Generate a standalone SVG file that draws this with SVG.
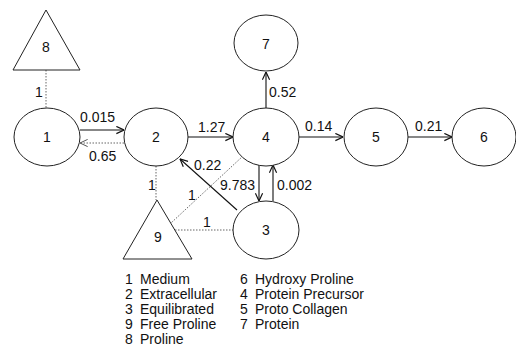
<svg xmlns="http://www.w3.org/2000/svg" width="516" height="349" viewBox="0 0 516 349">
<style>
text{font-family:"Liberation Sans",Arial,sans-serif;font-size:14px;fill:#111}
.n{text-anchor:middle}
.shape{fill:#fff;stroke:#222;stroke-width:1}
.s{stroke:#111;stroke-width:1.1;fill:none}
.d{stroke:#666;stroke-width:1;stroke-dasharray:1.5 1.5;fill:none}
</style>
<defs>
<marker id="a" viewBox="0 0 10 10" refX="9.5" refY="5" markerWidth="9" markerHeight="9" orient="auto" markerUnits="userSpaceOnUse">
<path d="M1,1 L9.5,5 L1,9" fill="none" stroke="#111" stroke-width="1.3"/>
</marker>
<marker id="ad" viewBox="0 0 10 10" refX="9.5" refY="5" markerWidth="9" markerHeight="9" orient="auto" markerUnits="userSpaceOnUse">
<path d="M1,1 L9.5,5 L1,9" fill="none" stroke="#555" stroke-width="1.1"/>
</marker>
</defs>
<rect width="516" height="349" fill="#fff"/>
<g id="connectors">
<line class="d" x1="46" y1="70" x2="46" y2="108"/>
<line class="s" x1="80" y1="130" x2="124" y2="130" marker-end="url(#a)"/>
<line class="d" x1="124" y1="143" x2="80" y2="143" marker-end="url(#ad)"/>
<line class="s" x1="188" y1="137" x2="233" y2="137" marker-end="url(#a)"/>
<line class="s" x1="299" y1="137" x2="343" y2="137" marker-end="url(#a)"/>
<line class="s" x1="408" y1="137" x2="452" y2="137" marker-end="url(#a)"/>
<line class="s" x1="266" y1="108" x2="266" y2="72" marker-end="url(#a)"/>
<line class="s" x1="259" y1="165" x2="259" y2="201" marker-end="url(#a)"/>
<line class="s" x1="273" y1="201" x2="273" y2="165" marker-end="url(#a)"/>
<line class="s" x1="237" y1="210" x2="180" y2="159" marker-end="url(#a)"/>
<line class="d" x1="156" y1="166" x2="156" y2="200"/>
<line class="d" x1="243" y1="156" x2="171" y2="223"/>
<line class="d" x1="175" y1="230" x2="233" y2="230"/>
<text x="35" y="97">1</text>
<text x="80" y="122">0.015</text>
<text x="89" y="161">0.65</text>
<text x="198" y="132">1.27</text>
<text x="305" y="131">0.14</text>
<text x="415" y="131">0.21</text>
<text x="269" y="97">0.52</text>
<text x="255" y="190" text-anchor="end">9.783</text>
<text x="277" y="190">0.002</text>
<text x="194" y="170">0.22</text>
<text x="148" y="190">1</text>
<text x="188" y="200">1</text>
<text x="203" y="227">1</text>
</g>
<g id="node8"><polygon class="shape" points="46,10 13,70 80,70"/><text class="n" x="46" y="52">8</text></g>
<g id="node1"><ellipse class="shape" cx="47" cy="137" rx="33" ry="29"/><text class="n" x="47" y="142">1</text></g>
<g id="node2"><ellipse class="shape" cx="156" cy="137" rx="32" ry="29"/><text class="n" x="156" y="142">2</text></g>
<g id="node4"><ellipse class="shape" cx="266" cy="137" rx="33" ry="29"/><text class="n" x="266" y="142">4</text></g>
<g id="node7"><ellipse class="shape" cx="266" cy="43" rx="32" ry="28"/><text class="n" x="266" y="49">7</text></g>
<g id="node5"><ellipse class="shape" cx="376" cy="137" rx="32" ry="29"/><text class="n" x="376" y="142">5</text></g>
<g id="node6"><ellipse class="shape" cx="484" cy="137" rx="32" ry="29"/><text class="n" x="484" y="142">6</text></g>
<g id="node3"><ellipse class="shape" cx="266" cy="230" rx="33" ry="29"/><text class="n" x="266" y="235">3</text></g>
<g id="node9"><polygon class="shape" points="157,200 123,259 192,259"/><text class="n" x="158" y="242">9</text></g>
<g id="legend">
<text x="125" y="284">1</text><text x="140" y="284">Medium</text>
<text x="125" y="299">2</text><text x="140" y="299">Extracellular</text>
<text x="125" y="314">3</text><text x="140" y="314">Equilibrated</text>
<text x="125" y="329">9</text><text x="140" y="329">Free Proline</text>
<text x="125" y="344">8</text><text x="140" y="344">Proline</text>
<text x="240" y="284">6</text><text x="255" y="284">Hydroxy Proline</text>
<text x="240" y="299">4</text><text x="255" y="299">Protein Precursor</text>
<text x="240" y="314">5</text><text x="255" y="314">Proto Collagen</text>
<text x="240" y="329">7</text><text x="255" y="329">Protein</text>
</g>
</svg>
